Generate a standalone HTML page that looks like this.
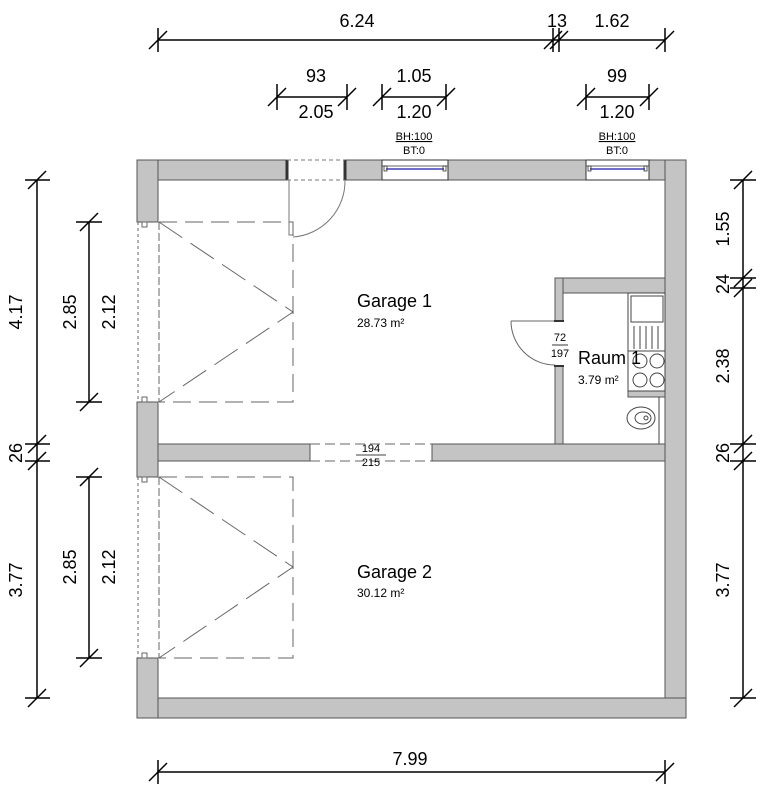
<!DOCTYPE html>
<html><head><meta charset="utf-8"><style>
html,body{margin:0;padding:0;background:#fff;}
svg{display:block;font-family:"Liberation Sans",sans-serif;}
</style></head><body>
<svg width="768" height="806" viewBox="0 0 768 806" xmlns="http://www.w3.org/2000/svg">
<!-- walls -->
<g fill="#c4c4c4" stroke="#555" stroke-width="1">
<rect x="137" y="160" width="150" height="20"/>
<rect x="345" y="160" width="37" height="20"/>
<rect x="448" y="160" width="138" height="20"/>
<rect x="649" y="160" width="37" height="20"/>
<rect x="665" y="160" width="21" height="558"/>
<rect x="137" y="698" width="549" height="20"/>
<rect x="137" y="160" width="21" height="62"/>
<rect x="137" y="402" width="21" height="75"/>
<rect x="137" y="658" width="21" height="60"/>
<rect x="158" y="444" width="152" height="17"/>
<rect x="432" y="444" width="233" height="17"/>
<rect x="555" y="278" width="110" height="15"/>
<rect x="555" y="278" width="8" height="43"/>
<rect x="555" y="366" width="8" height="78"/>
<rect x="628" y="391" width="37" height="6"/>
</g>
<!-- cover seams -->
<g fill="#c4c4c4">
<rect x="138" y="161" width="19" height="18"/>
<rect x="138" y="445" width="19" height="15"/>
<rect x="138" y="699" width="19" height="18"/>
<rect x="666" y="161" width="19" height="18"/>
<rect x="666" y="279" width="19" height="13"/>
<rect x="666" y="445" width="19" height="15"/>
<rect x="666" y="699" width="19" height="18"/>
<rect x="556" y="279" width="6" height="13"/>
</g>
<!-- windows -->
<g stroke="#333" stroke-width="1" fill="#fff">
<rect x="382" y="160" width="66" height="20"/>
<rect x="586" y="160" width="63" height="20"/>
</g>
<line x1="386" y1="169" x2="444" y2="169" stroke="#7070c8" stroke-width="2"/>
<line x1="590" y1="169" x2="645" y2="169" stroke="#7070c8" stroke-width="2"/>
<g stroke="#333" fill="none" stroke-width="0.8">
<line x1="382" y1="166" x2="448" y2="166"/><line x1="586" y1="166" x2="649" y2="166"/>
<rect x="384" y="166" width="3" height="5"/><rect x="443" y="166" width="3" height="5"/>
<rect x="588" y="166" width="3" height="5"/><rect x="644" y="166" width="3" height="5"/>
</g>
<!-- top door -->
<g stroke="#333" stroke-width="3"><line x1="287" y1="160" x2="287" y2="180"/><line x1="345" y1="160" x2="345" y2="180"/></g>
<g stroke="#777" stroke-width="1" fill="none">
<line x1="287" y1="160" x2="345" y2="160" stroke-dasharray="4,3"/>
<line x1="287" y1="180" x2="345" y2="180" stroke-dasharray="4,3"/>
<path d="M289 180 V235 H293"/>
<path d="M293 237 A56 56 0 0 0 345 180"/>
</g>
<!-- garage doors -->
<g stroke="#666" stroke-width="1" fill="none">
<path d="M159 222 H293 V402 H159" stroke-dasharray="18,8"/>
<path d="M159 222 L293 312 L159 402" stroke-dasharray="28,10"/>
<line x1="138" y1="222" x2="138" y2="402" stroke-dasharray="3,3"/>
<line x1="159" y1="222" x2="159" y2="402" stroke-dasharray="8,3"/>
<path d="M159 477 H293 V658 H159" stroke-dasharray="18,8"/>
<path d="M159 477 L293 567 L159 658" stroke-dasharray="28,10"/>
<line x1="138" y1="477" x2="138" y2="658" stroke-dasharray="3,3"/>
<line x1="159" y1="477" x2="159" y2="658" stroke-dasharray="8,3"/>
<rect x="142" y="222" width="5" height="5"/><rect x="142" y="397" width="5" height="5"/>
<rect x="142" y="477" width="5" height="5"/><rect x="142" y="653" width="5" height="5"/>
<line x1="310" y1="444" x2="432" y2="444" stroke-dasharray="10,5"/>
<line x1="310" y1="461" x2="432" y2="461" stroke-dasharray="10,5"/>
</g>
<!-- raum door -->
<g stroke="#666" stroke-width="1" fill="none">
<line x1="511" y1="321" x2="555" y2="321"/>
<path d="M511 321 A44 44 0 0 0 555 365"/>
</g>
<g stroke="#333" stroke-width="2"><line x1="554" y1="321" x2="564" y2="321"/><line x1="554" y1="366" x2="564" y2="366"/></g>
<!-- kitchen -->
<g stroke="#444" stroke-width="1" fill="none">
<rect x="628" y="293" width="37" height="98" fill="#fff"/>
<rect x="631" y="296" width="32" height="26"/>
<line x1="634" y1="326" x2="634" y2="349"/><line x1="640" y1="326" x2="640" y2="349"/>
<line x1="646" y1="326" x2="646" y2="349"/><line x1="652" y1="326" x2="652" y2="349"/>
<line x1="658" y1="326" x2="658" y2="349"/>
<line x1="628" y1="351" x2="665" y2="351"/>
<circle cx="640" cy="361" r="7"/><circle cx="657" cy="361" r="7"/>
<circle cx="640" cy="380" r="7"/><circle cx="657" cy="380" r="7"/>
<line x1="659" y1="397" x2="659" y2="444"/>
<ellipse cx="641" cy="418" rx="14" ry="11"/>
<ellipse cx="643" cy="418" rx="8" ry="6"/>
<circle cx="646" cy="418" r="2"/>
</g>
<!-- room labels -->
<g fill="#000">
<text x="357" y="307" font-size="18">Garage 1</text>
<text x="357" y="327" font-size="12">28.73 m²</text>
<text x="357" y="578" font-size="18">Garage 2</text>
<text x="357" y="597" font-size="12">30.12 m²</text>
<text x="578" y="364" font-size="18">Raum 1</text>
<text x="578" y="384" font-size="12">3.79 m²</text>
<text x="371" y="452" font-size="11" text-anchor="middle">194</text>
<text x="371" y="466" font-size="11" text-anchor="middle">215</text>
<text x="560" y="341" font-size="11" text-anchor="middle">72</text>
<text x="560" y="357" font-size="11" text-anchor="middle">197</text>
<text x="414" y="140" font-size="11" text-anchor="middle" text-decoration="underline">BH:100</text>
<text x="414" y="154" font-size="11" text-anchor="middle">BT:0</text>
<text x="617" y="140" font-size="11" text-anchor="middle" text-decoration="underline">BH:100</text>
<text x="617" y="154" font-size="11" text-anchor="middle">BT:0</text>
</g>
<line x1="552" y1="345" x2="568" y2="345" stroke="#000" stroke-width="0.8"/>
<line x1="356" y1="455" x2="386" y2="455" stroke="#000" stroke-width="0.8"/>
<!-- dimension lines -->
<g stroke="#000" stroke-width="1.5" fill="none">
<line x1="158" y1="40" x2="665" y2="40"/>
<path d="M158 28 V52 M149 49 L167 31 M553 28 V52 M544 49 L562 31 M559 28 V52 M550 49 L568 31 M665 28 V52 M656 49 L674 31"/>
<line x1="277" y1="97" x2="347" y2="97"/>
<path d="M277 84 V110 M268 106 L286 88 M347 84 V110 M338 106 L356 88"/>
<line x1="382" y1="97" x2="446" y2="97"/>
<path d="M382 84 V110 M373 106 L391 88 M446 84 V110 M437 106 L455 88"/>
<line x1="586" y1="97" x2="649" y2="97"/>
<path d="M586 84 V110 M577 106 L595 88 M649 84 V110 M640 106 L658 88"/>
<line x1="158" y1="772" x2="665" y2="772"/>
<path d="M158 760 V784 M149 781 L167 763 M665 760 V784 M656 781 L674 763"/>
<line x1="37" y1="180" x2="37" y2="698"/>
<path d="M25 180 H50 M28 189 L46 171 M25 444 H50 M28 453 L46 435 M25 461 H50 M28 470 L46 452 M25 698 H50 M28 707 L46 689"/>
<line x1="89" y1="222" x2="89" y2="402"/>
<path d="M76 222 H102 M80 231 L98 213 M76 402 H102 M80 411 L98 393"/>
<line x1="89" y1="477" x2="89" y2="658"/>
<path d="M76 477 H102 M80 486 L98 468 M76 658 H102 M80 667 L98 649"/>
<line x1="743" y1="180" x2="743" y2="698"/>
<path d="M730 180 H756 M734 189 L752 171 M730 278 H756 M734 287 L752 269 M730 288 H756 M734 297 L752 279 M730 444 H756 M734 453 L752 435 M730 461 H756 M734 470 L752 452 M730 698 H756 M734 707 L752 689"/>
</g>
<g fill="#000" font-size="18" text-anchor="middle">
<text x="357" y="27">6.24</text>
<text x="557" y="27">13</text>
<text x="612" y="27">1.62</text>
<text x="316" y="82">93</text>
<text x="316" y="118">2.05</text>
<text x="414" y="82">1.05</text>
<text x="414" y="118">1.20</text>
<text x="617" y="82">99</text>
<text x="617" y="118">1.20</text>
<text x="410" y="765">7.99</text>
<text transform="translate(22,312) rotate(-90)">4.17</text>
<text transform="translate(22,453) rotate(-90)">26</text>
<text transform="translate(22,580) rotate(-90)">3.77</text>
<text transform="translate(76,312) rotate(-90)">2.85</text>
<text transform="translate(115,312) rotate(-90)">2.12</text>
<text transform="translate(76,567) rotate(-90)">2.85</text>
<text transform="translate(115,567) rotate(-90)">2.12</text>
<text transform="translate(729,229) rotate(-90)">1.55</text>
<text transform="translate(729,284) rotate(-90)">24</text>
<text transform="translate(729,366) rotate(-90)">2.38</text>
<text transform="translate(729,453) rotate(-90)">26</text>
<text transform="translate(729,580) rotate(-90)">3.77</text>
</g>
</svg>
</body></html>
